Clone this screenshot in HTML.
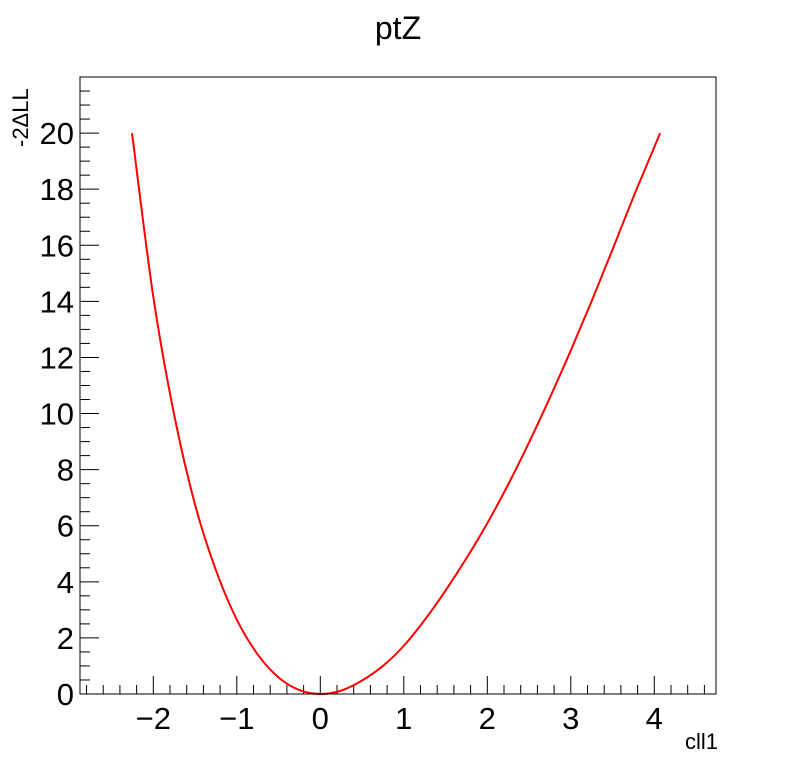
<!DOCTYPE html>
<html><head><meta charset="utf-8"><style>
body{margin:0;background:#fff;}
svg text{font-family:"Liberation Sans",Arial,sans-serif;fill:#000;}
</style></head><body>
<svg id="chart" width="796" height="772" xmlns="http://www.w3.org/2000/svg">
<rect width="796" height="772" fill="#fff"/>
<text x="398" y="39" font-size="32" text-anchor="middle">ptZ</text>
<g id="axes"></g>
<path id="curve" fill="none" stroke="#ff0000" stroke-width="2"/>
<rect x="80" y="77" width="636" height="617" fill="none" stroke="#000" stroke-width="1"/>
<text x="718" y="749" font-size="22" text-anchor="end">cll1</text>
<text transform="translate(28,147) rotate(-90)" font-size="22">-2ΔLL</text>
</svg>
<script>
const xVals=[-2.255,-2.0,-1.75,-1.5,-1.25,-1.0,-0.75,-0.5,-0.25,0.0,0.25,0.5,0.75,1.0,1.25,1.5,1.75,2.0,2.25,2.5,2.75,3.0,3.25,3.5,3.75,4.0,4.07];
const yVals=[20,14.16,9.95,6.75,4.41,2.65,1.41,0.59,0.14,0,0.12,0.48,1.0,1.72,2.64,3.69,4.84,6.09,7.47,8.97,10.57,12.25,14.01,15.85,17.72,19.5,20];
const xTicks=[-2,-1,0,1,2,3,4];
const yTicks=[0,2,4,6,8,10,12,14,16,18,20];
const xMin=-2.878,xMax=4.739,yMin=0,yMax=22.0;
const L=80,R=716,T=77,B=694;
const sx=v=>L+(v-xMin)/(xMax-xMin)*(R-L);
const sy=v=>B-(v-yMin)/(yMax-yMin)*(B-T);
const NS="http://www.w3.org/2000/svg";
const axes=document.getElementById('axes');
function line(x1,y1,x2,y2,name){const l=document.createElementNS(NS,'line');
l.setAttribute('x1',x1);l.setAttribute('y1',y1);l.setAttribute('x2',x2);l.setAttribute('y2',y2);
l.setAttribute('stroke','#000');l.setAttribute('stroke-width','1');


axes.appendChild(l);}
function text(x,y,s,anchor,name){const t=document.createElementNS(NS,'text');
t.setAttribute('x',x);t.setAttribute('y',y);t.setAttribute('font-size','31');t.setAttribute('text-anchor',anchor);t.textContent=s;


axes.appendChild(t);}
for(let v=-2.8;v<=xMax+1e-9;v+=0.2){const r=Math.round(v*10)/10;const maj=Math.abs(r-Math.round(r))<1e-6;
line(sx(r),B,sx(r),B-(maj?18:9),'x-tick');}
for(let v=0;v<=yMax+1e-9;v+=0.5){const maj=Math.abs(v/2-Math.round(v/2))<1e-6;
line(L,sy(v),L+(maj?19:10),sy(v),'y-tick');}
xTicks.forEach(v=>text(sx(v),729,v<0?'\u2212'+Math.abs(v):String(v),'middle','x-tick-label'));
yTicks.forEach(v=>text(74,sy(v)+11,String(v),'end','y-tick-label'));
const pts=xVals.map((x,i)=>[sx(x),sy(yVals[i])]);
let d='M'+pts[0][0]+','+pts[0][1];
for(let i=0;i<pts.length-1;i++){const p0=pts[i-1]||pts[i],p1=pts[i],p2=pts[i+1],p3=pts[i+2]||p2;
const c1=[p1[0]+(p2[0]-p0[0])/6,p1[1]+(p2[1]-p0[1])/6],c2=[p2[0]-(p3[0]-p1[0])/6,p2[1]-(p3[1]-p1[1])/6];
d+=` C${c1[0]},${c1[1]} ${c2[0]},${c2[1]} ${p2[0]},${p2[1]}`;}
document.getElementById('curve').setAttribute('d',d);
</script>
</body></html>
